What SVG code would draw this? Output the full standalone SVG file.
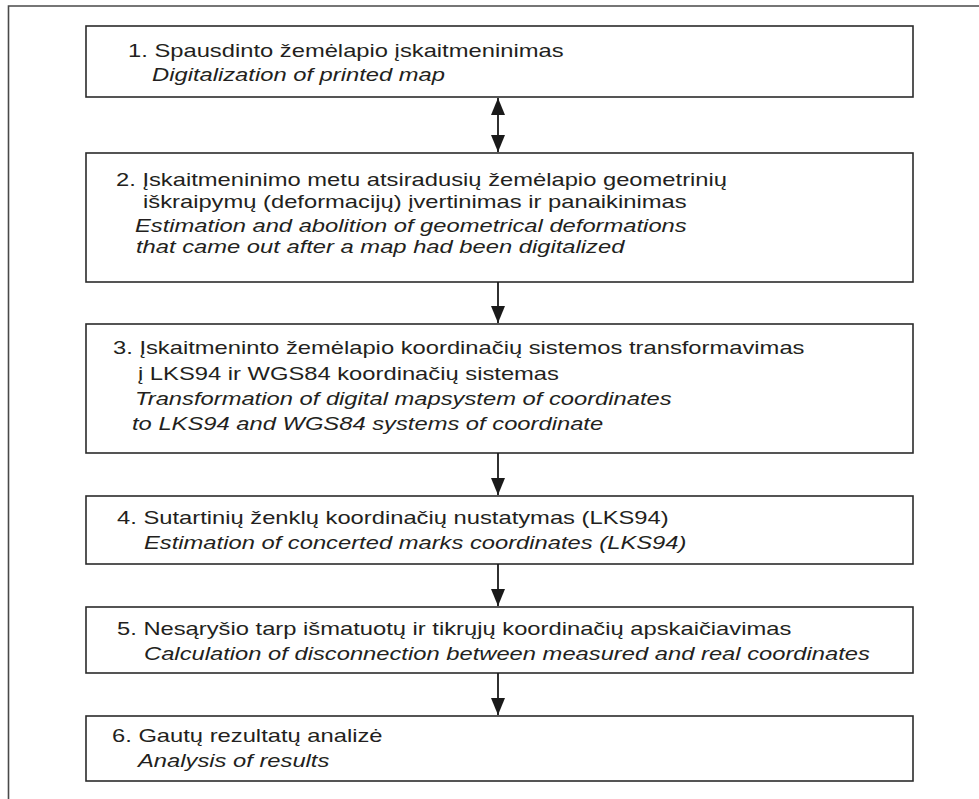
<svg xmlns="http://www.w3.org/2000/svg" width="979" height="799" viewBox="0 0 979 799">
<style>
.frame{fill:none;stroke:#4a4a4a;stroke-width:1.6}
.box{fill:#fff;stroke:#2b2b2b;stroke-width:1.6}
.t{font-family:"Liberation Sans",Arial,sans-serif;font-size:19px;fill:#231f20}
.i{font-style:italic}
.con{stroke:#1a1a1a;stroke-width:1.8;fill:none}
</style>
<defs>
<marker id="ah" viewBox="0 0 17 14" refX="17" refY="7" markerWidth="17" markerHeight="14" markerUnits="userSpaceOnUse" orient="auto-start-reverse">
<path d="M0,0 L17,7 L0,14 Z" fill="#1a1a1a"/>
</marker>
</defs>
<rect width="979" height="799" fill="#fff"/>
<path class="frame" d="M8.5,799 V6 H979"/>

<g id="node1">
<rect class="box" x="86" y="26" width="827" height="71"/>
<text class="t" transform="translate(128 57) scale(1.25 1)">1. Spausdinto žemėlapio įskaitmeninimas</text>
<text class="t i" transform="translate(152 81) scale(1.25 1)">Digitalization of printed map</text>
</g>

<g id="node2">
<rect class="box" x="86" y="153" width="827" height="129"/>
<text class="t" transform="translate(116 186) scale(1.25 1)">2. Įskaitmeninimo metu atsiradusių žemėlapio geometrinių</text>
<text class="t" transform="translate(143 208) scale(1.25 1)">iškraipymų (deformacijų) įvertinimas ir panaikinimas</text>
<text class="t i" transform="translate(135 232) scale(1.25 1)">Estimation and abolition of geometrical deformations</text>
<text class="t i" transform="translate(136 253) scale(1.25 1)">that came out after a map had been digitalized</text>
</g>

<g id="node3">
<rect class="box" x="86" y="324" width="827" height="129"/>
<text class="t" transform="translate(113 354) scale(1.25 1)">3. Įskaitmeninto žemėlapio koordinačių sistemos transformavimas</text>
<text class="t" transform="translate(138 380) scale(1.25 1)">į LKS94 ir WGS84 koordinačių sistemas</text>
<text class="t i" transform="translate(135 405) scale(1.25 1)">Transformation of digital mapsystem of coordinates</text>
<text class="t i" transform="translate(132 430) scale(1.25 1)">to LKS94 and WGS84 systems of coordinate</text>
</g>

<g id="node4">
<rect class="box" x="86" y="496" width="827" height="68"/>
<text class="t" transform="translate(117 524) scale(1.25 1)">4. Sutartinių ženklų koordinačių nustatymas (LKS94)</text>
<text class="t i" transform="translate(144 549) scale(1.25 1)">Estimation of concerted marks coordinates (LKS94)</text>
</g>

<g id="node5">
<rect class="box" x="86" y="607" width="827" height="66"/>
<text class="t" transform="translate(117 635) scale(1.25 1)">5. Nesąryšio tarp išmatuotų ir tikrųjų koordinačių apskaičiavimas</text>
<text class="t i" transform="translate(144 660) scale(1.25 1)">Calculation of disconnection between measured and real coordinates</text>
</g>

<g id="node6">
<rect class="box" x="86" y="716" width="827" height="65"/>
<text class="t" transform="translate(112 742) scale(1.25 1)">6. Gautų rezultatų analizė</text>
<text class="t i" transform="translate(138 767) scale(1.25 1)">Analysis of results</text>
</g>

<g id="connectors">
<line class="con" x1="498" y1="98" x2="498" y2="152" marker-start="url(#ah)" marker-end="url(#ah)"/>
<line class="con" x1="498" y1="282" x2="498" y2="323" marker-end="url(#ah)"/>
<line class="con" x1="498" y1="453" x2="498" y2="495" marker-end="url(#ah)"/>
<line class="con" x1="498" y1="564" x2="498" y2="606" marker-end="url(#ah)"/>
<line class="con" x1="498" y1="673" x2="498" y2="715" marker-end="url(#ah)"/>
</g>
</svg>
